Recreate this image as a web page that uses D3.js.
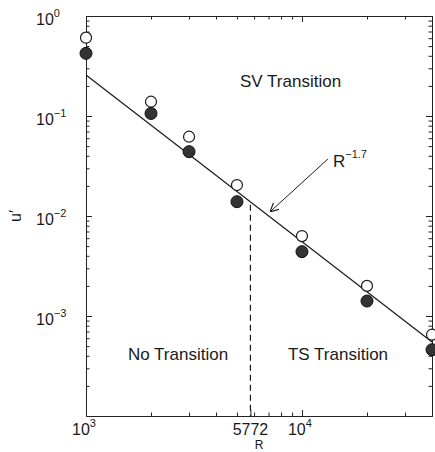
<!DOCTYPE html>
<html>
<head>
<meta charset="utf-8">
<script src="https://cdn.jsdelivr.net/npm/d3@7"></script>
<style>
body { margin: 0; background: #fff; }
svg text { font-family: "Liberation Sans", Arial, sans-serif; fill: #1a1a1a; }
.axis path, .axis line { stroke: #222; stroke-width: 1; }
</style>
</head>
<body>
<div id="chart"></div>
<script>

// values
var reynolds = [1000, 2000, 3000, 5000, 10000, 20000, 40000];
var uOpen    = [0.607, 0.139, 0.0621, 0.0204, 0.0063, 0.0020, 0.00065];
var uFilled  = [0.423, 0.106, 0.044, 0.0139, 0.0044, 0.00141, 0.00046];

// fitted power law, drawn between these two ends
var fitR = [1000, 40000];
var fitU = [0.257, 0.00055];
var fitLabel = "R";
var fitExp = "-1.7";

var rCrit = 5772;

var xMajor = [1000, 10000];
var xMajorExp = ["3", "4"];
var yMajor = [1, 0.1, 0.01, 0.001];
var yMajorExp = ["0", "-1", "-2", "-3"];

var regionNames = ["SV Transition", "No Transition", "TS Transition"];
var regionR = [5164, 1564, 8610];
var regionU = [0.195, 0.000363, 0.000363];

var W = 435, H = 452;
var margin = {top: 16, right: 3, bottom: 36, left: 86};
var width = W - margin.left - margin.right;
var height = H - margin.top - margin.bottom;

var svg = d3.select("#chart").append("svg")
	.attr("width", W)
	.attr("height", H);

var g = svg.append("g")
	.attr("transform", "translate(" + margin.left + "," + margin.top + ")");

var x = d3.scaleLog().domain([1000, 40000]).range([0, width]);
var y = d3.scaleLog().domain([1e-4, 1]).range([height, 0]);

// minor ticks 2..9 of every decade
var xMinor = [];
[1000, 10000].forEach(function(d) {
	for (var k = 2; k <= 9; k++) if (d * k <= 40000) xMinor.push(d * k);
});
var yMinor = [];
[1e-4, 1e-3, 1e-2, 1e-1].forEach(function(d) {
	for (var k = 2; k <= 9; k++) yMinor.push(d * k);
});

// axes, ticks pointing inside
function addAxis(axisFn, vals, size, tr) {
	var a = g.append("g").attr("class", "axis");
	if (tr) a.attr("transform", tr);
	a.call(axisFn.tickValues(vals).tickSizeInner(-size).tickSizeOuter(0).tickFormat(""));
	return a;
}
addAxis(d3.axisBottom(x), xMajor.concat([rCrit]), 6, "translate(0," + height + ")");
addAxis(d3.axisBottom(x), xMinor, 3.5, "translate(0," + height + ")");
addAxis(d3.axisTop(x), xMajor, 6);
addAxis(d3.axisTop(x), xMinor, 3.5);
addAxis(d3.axisLeft(y), yMajor, 6);
addAxis(d3.axisLeft(y), yMinor, 3.5);
addAxis(d3.axisRight(y), yMajor, 6, "translate(" + width + ",0)");
addAxis(d3.axisRight(y), yMinor, 3.5, "translate(" + width + ",0)");

// y tick labels
var yl = g.selectAll("text.ylab")
	.data(yMajor)
	.enter().append("text")
	.attr("class", "ylab")
	.attr("x", -50)
	.attr("y", function(d) { return y(d) + 9; })
	.style("font-size", "16px");
yl.append("tspan").text("10");
yl.append("tspan")
	.attr("dy", -8)
	.style("font-size", "11px")
	.text(function(d, i) { return yMajorExp[i].replace("-", "\u2212"); });

// x tick labels
var xl = g.selectAll("text.xlab")
	.data(xMajor)
	.enter().append("text")
	.attr("class", "xlab")
	.attr("x", function(d) { return x(d) - 14; })
	.attr("y", height + 19)
	.style("font-size", "16px");
xl.append("tspan").text("10");
xl.append("tspan")
	.attr("dy", -8)
	.style("font-size", "11px")
	.text(function(d, i) { return xMajorExp[i]; });

g.append("text")
	.attr("x", x(rCrit))
	.attr("y", height + 19)
	.style("font-size", "16px")
	.style("text-anchor", "middle")
	.text(rCrit);

// axis titles
g.append("text")
	.attr("x", width / 2)
	.attr("y", height + 33)
	.style("font-size", "12px")
	.style("text-anchor", "middle")
	.text("R");

g.append("text")
	.attr("transform", "translate(" + (-65) + "," + y(0.01) + ") rotate(-90)")
	.style("font-size", "16px")
	.style("text-anchor", "middle")
	.text("u\u2032");

// fit line
var fitPts = fitR.map(function(d, i) { return [d, fitU[i]]; });
g.append("path")
	.datum(fitPts)
	.attr("d", d3.line().x(function(d) { return x(d[0]); }).y(function(d) { return y(d[1]); }))
	.style("fill", "none")
	.style("stroke", "#1a1a1a")
	.style("stroke-width", 1.2);

// critical Reynolds number, dashed
var slope = Math.log(fitU[1] / fitU[0]) / Math.log(fitR[1] / fitR[0]);
var uCrit = fitU[0] * Math.pow(rCrit / fitR[0], slope);
g.append("line")
	.attr("x1", x(rCrit)).attr("x2", x(rCrit))
	.attr("y1", y(uCrit) + 3).attr("y2", height)
	.style("stroke", "#1a1a1a")
	.style("stroke-width", 1.2)
	.style("stroke-dasharray", "6,4");

// data points
g.selectAll("circle.open")
	.data(reynolds)
	.enter().append("circle")
	.attr("class", "open")
	.attr("cx", function(d) { return x(d); })
	.attr("cy", function(d, i) { return y(uOpen[i]); })
	.attr("r", 5.5)
	.style("fill", "#fff")
	.style("stroke", "#1a1a1a")
	.style("stroke-width", 1.2);

g.selectAll("circle.filled")
	.data(reynolds)
	.enter().append("circle")
	.attr("class", "filled")
	.attr("cx", function(d) { return x(d); })
	.attr("cy", function(d, i) { return y(uFilled[i]); })
	.attr("r", 6)
	.style("fill", "#333")
	.style("stroke", "#111")
	.style("stroke-width", 1);

// region labels
g.selectAll("text.region")
	.data(regionNames)
	.enter().append("text")
	.attr("class", "region")
	.attr("x", function(d, i) { return x(regionR[i]); })
	.attr("y", function(d, i) { return y(regionU[i]); })
	.style("font-size", "17px")
	.text(function(d) { return d; });

// arrow with R^-1.7
svg.append("defs").append("marker")
	.attr("id", "arr")
	.attr("viewBox", "0 0 10 10")
	.attr("refX", 10).attr("refY", 5)
	.attr("markerWidth", 9).attr("markerHeight", 9)
	.attr("markerUnits", "userSpaceOnUse")
	.attr("orient", "auto")
	.append("path")
	.attr("d", "M0,0 L10,5 L0,10")
	.style("fill", "none")
	.style("stroke", "#1a1a1a")
	.style("stroke-width", 1.3);

g.append("line")
	.attr("x1", x(13190)).attr("y1", y(0.0372))
	.attr("x2", x(7112)).attr("y2", y(0.011))
	.style("stroke", "#1a1a1a")
	.style("stroke-width", 1)
	.attr("marker-end", "url(#arr)");

var fl = g.append("text")
	.attr("x", x(13920))
	.attr("y", y(0.0309))
	.style("font-size", "17px");
fl.append("tspan").text(fitLabel);
fl.append("tspan")
	.attr("dy", -9)
	.style("font-size", "11px")
	.text(fitExp.replace("-", "\u2212"));

</script>
</body>
</html>
